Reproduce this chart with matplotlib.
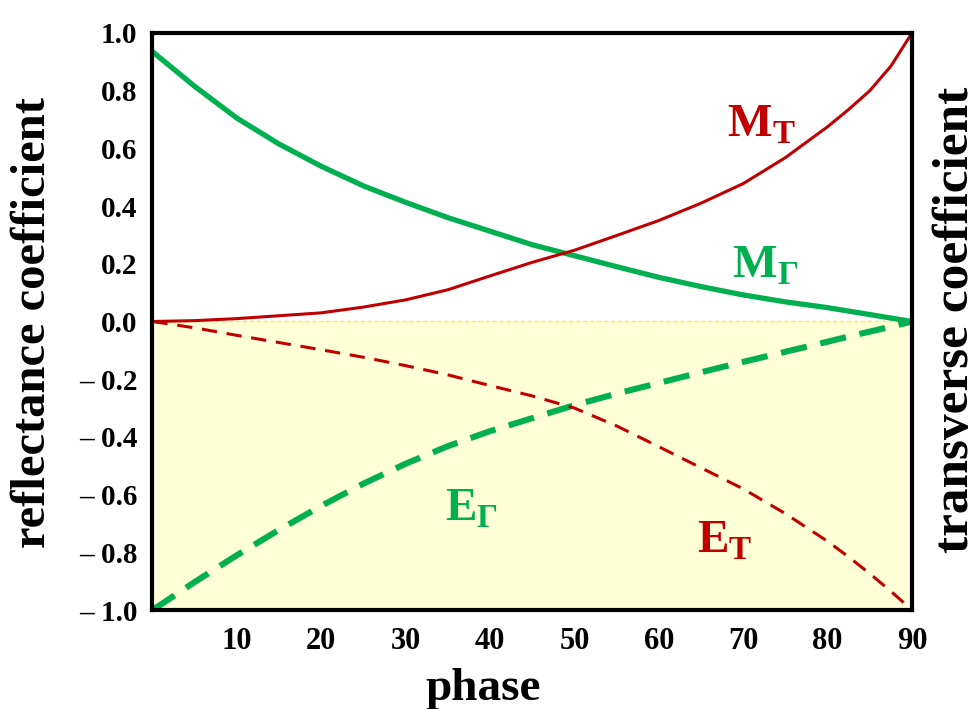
import numpy as np
import matplotlib
matplotlib.use("Agg")
import matplotlib.pyplot as plt

plt.rcParams['font.family'] = ['Liberation Serif', 'DejaVu Serif']
plt.rcParams['font.weight'] = 'bold'
plt.rcParams['mathtext.fontset'] = 'custom'
plt.rcParams['mathtext.rm'] = 'Liberation Serif:bold'
plt.rcParams['mathtext.bf'] = 'Liberation Serif:bold'
plt.rcParams['lines.scale_dashes'] = False

# data
phase = [0, 5, 10, 15, 20, 25, 30, 35, 40, 45, 50, 55, 60, 65, 70, 75, 80,
         82.5, 85, 87.5, 90]
m_gamma = [0.935, 0.815, 0.705, 0.615, 0.538, 0.47, 0.413, 0.36, 0.313, 0.266,
           0.228, 0.19, 0.153, 0.121, 0.092, 0.068, 0.048, 0.036, 0.024, 0.012, 0.0]
m_t = [0.0, 0.003, 0.01, 0.02, 0.03, 0.05, 0.075, 0.11, 0.158, 0.205, 0.247,
       0.298, 0.35, 0.41, 0.478, 0.568, 0.675, 0.735, 0.80, 0.885, 1.0]
e_t = [0.0, -0.022, -0.048, -0.073, -0.098, -0.124, -0.153, -0.185, -0.222, -0.258,
       -0.30, -0.362, -0.434, -0.507, -0.58, -0.666, -0.762, -0.816, -0.874, -0.935, -1.0]
e_gamma = [-1.0, -0.903, -0.81, -0.722, -0.639, -0.562, -0.493, -0.432, -0.38, -0.335,
           -0.29, -0.25, -0.213, -0.176, -0.14, -0.105, -0.07, -0.052, -0.035, -0.018, 0.0]

xticks = [10, 20, 30, 40, 50, 60, 70, 80, 90]
yticks = [-1.0, -0.8, -0.6, -0.4, -0.2, 0.0, 0.2, 0.4, 0.6, 0.8, 1.0]
ytick_labels = ['\u2013 1.0', '\u2013 0.8', '\u2013 0.6', '\u2013 0.4', '\u2013 0.2',
                '0.0', '0.2', '0.4', '0.6', '0.8', '1.0']

green = '#00B050'
red = '#C00000'

fig = plt.figure(figsize=(9.8, 7.09), dpi=100)
ax = fig.add_axes([0.1556, 0.1396, 0.7750, 0.8139])

ax.axhspan(-1.0, 0.0, color='#FFFFD7', zorder=0, lw=0)
ax.axhline(0.0, color='#FFEE22', lw=1.0, ls=(0, (3, 2)), zorder=1)

ax.plot(phase, m_gamma, color=green, lw=3.8, solid_capstyle='butt', zorder=3)
ax.plot(phase, m_t, color=red, lw=2.2, zorder=4)
ax.plot(phase, e_gamma, color=green, lw=4.4, dashes=(19, 10), zorder=3)
ax.plot(phase, e_t, color=red, lw=2.2, dashes=(11, 7), zorder=4)

ax.text(68.1, 0.64, r'$\mathbf{M}_{\mathbf{T}}$', color=red, fontsize=34)
ax.text(68.7, 0.151, r'$\mathbf{M}_{\mathbf{\Gamma}}$', color=green, fontsize=34)
ax.text(34.7, -0.688, r'$\mathbf{E}_{\mathbf{\Gamma}}$', color=green, fontsize=34)
ax.text(64.5, -0.80, r'$\mathbf{E}_{\mathbf{T}}$', color=red, fontsize=34)

ax.set_xlim(0, 90)
ax.set_ylim(-1.0, 1.0)
ax.set_xticks(xticks)
ax.set_xticklabels([str(t) for t in xticks], fontsize=22, fontweight='bold')
ax.set_yticks(yticks)
ax.set_yticklabels(ytick_labels, fontsize=21, fontweight='bold')
ax.tick_params(axis='both', length=0)
ax.tick_params(axis='x', pad=12)
ax.tick_params(axis='y', pad=11)
for s in ax.spines.values():
    s.set_linewidth(3)
    s.set_zorder(5)

fig.text(483 / 980, 1 - 689 / 709, 'phase', fontsize=34, fontweight='bold',
         ha='center', va='center')
fig.text(33 / 980, 1 - 323 / 709, 'reflectance coefficient', fontsize=35,
         fontweight='bold', rotation=90, ha='center', va='center')
fig.text(956 / 980, 1 - 320 / 709, 'transverse coefficient', fontsize=37,
         fontweight='bold', rotation=90, ha='center', va='center')

fig.savefig('out.png', dpi=100)
